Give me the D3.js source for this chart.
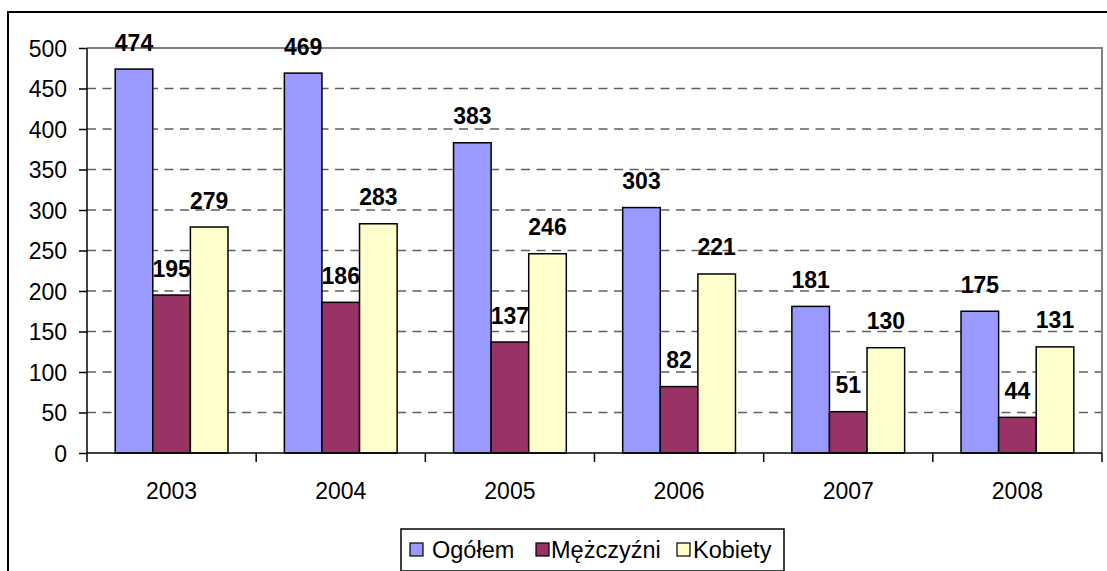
<!DOCTYPE html>
<html><head><meta charset="utf-8">
<script src="https://cdn.jsdelivr.net/npm/d3@7"></script>
<style>body{margin:0;background:#fff}svg{display:block;font-family:Arial,"Liberation Sans",sans-serif}</style>
</head><body>
<svg id="c" width="1107" height="571"></svg>
<script>
const years = ["2003","2004","2005","2006","2007","2008"];
const seriesNames = ["Ogółem","Mężczyźni","Kobiety"];
const ogolem = [474,469,383,303,181,175];
const mezczyzni = [195,186,137,82,51,44];
const kobiety = [279,283,246,221,130,131];
const colors = ["#9999FF","#993366","#FFFFCC"];
const yTicks = [0,50,100,150,200,250,300,350,400,450,500];

const svg = d3.select("#c");
const L=87, R=1102, T=48, B=453;
svg.append("rect").attr("x",8).attr("y",12).attr("width",1300).attr("height",800)
  .attr("fill","#fff").attr("stroke","#000").attr("stroke-width",2);

const x = d3.scaleBand().domain(years).range([L,R]).paddingInner(0).paddingOuter(0);
const y = d3.scaleLinear().domain([0,500]).range([B,T]);
const bw = x.bandwidth()/4.5;

// gridlines
svg.append("g").selectAll("line").data(yTicks.filter(t=>t>0&&t<500)).join("line")
  .attr("x1",L).attr("x2",R).attr("y1",d=>y(d)).attr("y2",d=>y(d))
  .attr("stroke","#606060").attr("stroke-width",1.7).attr("stroke-dasharray","9,6.5");
// plot border top/right
svg.append("path").attr("d",`M${L},${T}H${R}V${B}`).attr("fill","none").attr("stroke","#808080").attr("stroke-width",2);

const data = [ogolem,mezczyzni,kobiety];
const gBars = svg.append("g");
data.forEach((arr,si)=>{
  gBars.selectAll(null).data(arr).join("rect")
    .attr("x",(d,i)=>x(years[i])+0.75*bw+si*bw)
    .attr("y",d=>y(d)).attr("width",bw).attr("height",d=>B-y(d))
    .attr("fill",colors[si]).attr("stroke","#000").attr("stroke-width",1.5);
});
data.forEach((arr,si)=>{
  svg.append("g").selectAll("text").data(arr).join("text")
    .attr("x",(d,i)=>x(years[i])+0.75*bw+si*bw+bw/2)
    .attr("y",d=>y(d)-18.5).attr("text-anchor","middle")
    .attr("font-size",23).attr("font-weight","bold").text(d=>d);
});

// y axis
const ya = svg.append("g").attr("transform",`translate(${L},0)`)
  .call(d3.axisLeft(y).tickValues(yTicks).tickSize(8).tickPadding(12).tickFormat(d3.format("d")));
ya.select(".domain").attr("stroke","#000").attr("stroke-width",1.5).attr("d",`M0,${T}V${B}`);
ya.selectAll(".tick line").attr("stroke","#000").attr("stroke-width",1.5);
ya.selectAll("text").attr("font-size",23).attr("fill","#000").attr("font-family","Arial,'Liberation Sans',sans-serif").attr("dy","0.36em");

// x axis
const xa = svg.append("g").attr("transform",`translate(0,${B})`);
xa.append("line").attr("x1",L).attr("x2",R).attr("stroke","#000").attr("stroke-width",1.5);
const bounds = years.map(yv=>x(yv)).concat([R]);
xa.selectAll("line.t").data(bounds).join("line").attr("class","t")
  .attr("x1",d=>d).attr("x2",d=>d).attr("y1",0).attr("y2",9).attr("stroke","#000").attr("stroke-width",1.5);
xa.selectAll("text").data(years).join("text")
  .attr("x",d=>x(d)+x.bandwidth()/2).attr("y",46).attr("text-anchor","middle")
  .attr("font-size",23).text(d=>d);

// legend
const lg = svg.append("g");
lg.append("rect").attr("x",401).attr("y",529).attr("width",383).attr("height",42)
  .attr("fill","#fff").attr("stroke","#000").attr("stroke-width",1.5);
const legX = [410,536,677];
const legTX = [432,551,693];
seriesNames.forEach((n,i)=>{
  lg.append("rect").attr("x",legX[i]).attr("y",543).attr("width",13).attr("height",13)
    .attr("fill",colors[i]).attr("stroke","#000").attr("stroke-width",1.2);
  lg.append("text").attr("x",legTX[i]).attr("y",558).attr("font-size",23.5).text(n);
});
</script>
</body></html>
